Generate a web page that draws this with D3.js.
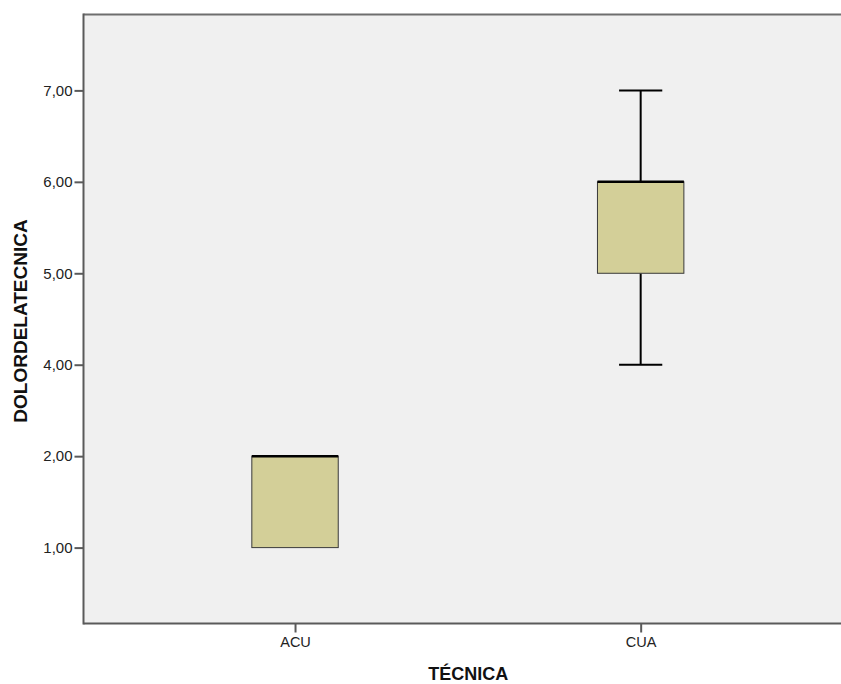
<!DOCTYPE html>
<html>
<head>
<meta charset="utf-8">
<script src="https://cdn.jsdelivr.net/npm/d3@7"></script>
<style>
  html, body { margin: 0; padding: 0; background: #ffffff; }
  svg { display: block; }
</style>
</head>
<body>
<script>
// ---- Data ----
const categories = ["ACU", "CUA"];
const mins    = [1, 4];
const q1s     = [1, 5];
const medians = [2, 6];
const q3s     = [2, 6];
const maxs    = [2, 7];
const tickValues = [1, 2, 4, 5, 6, 7];
const tickLabels = ["1,00", "2,00", "4,00", "5,00", "6,00", "7,00"];
const xTitle = "TÉCNICA";
const yTitle = "DOLORDELATECNICA";

const W = 841, H = 684;
const plot = { left: 83.5, top: 14.5, right: 852.2, bottom: 623.5 };

const svg = d3.select("body").append("svg")
  .attr("width", W).attr("height", H)
  .style("font-family", "'Liberation Sans', Arial, sans-serif");

// scales
const x = d3.scalePoint().domain(categories)
  .range([plot.left, plot.right]).padding(0.612);

// Axis positions are evenly spaced per listed tick (the original axis has no 3,00)
const idx = d3.scaleLinear().domain([-0.83, tickValues.length - 1 + 0.83])
  .range([plot.bottom, plot.top]);
const y = d3.scaleLinear().domain(tickValues)
  .range(tickValues.map((v, i) => idx(i)));

// plot background
svg.append("rect")
  .attr("x", plot.left).attr("y", plot.top)
  .attr("width", plot.right - plot.left + 10).attr("height", plot.bottom - plot.top)
  .attr("fill", "#f0f0f0");

const step = x.step();
const boxW = step * 0.25;
const capW = boxW / 2;

const data = categories.map((c, i) => ({
  c, min: mins[i], q1: q1s[i], med: medians[i], q3: q3s[i], max: maxs[i]
}));

const g = svg.append("g");
data.forEach(d => {
  const cx = x(d.c);
  // whiskers
  if (d.max > d.q3) {
    g.append("line").attr("x1", cx).attr("x2", cx)
      .attr("y1", y(d.q3)).attr("y2", y(d.max))
      .attr("stroke", "#000").attr("stroke-width", 2);
    g.append("line").attr("x1", cx - capW / 2).attr("x2", cx + capW / 2)
      .attr("y1", y(d.max)).attr("y2", y(d.max))
      .attr("stroke", "#000").attr("stroke-width", 2);
  }
  if (d.min < d.q1) {
    g.append("line").attr("x1", cx).attr("x2", cx)
      .attr("y1", y(d.q1)).attr("y2", y(d.min))
      .attr("stroke", "#000").attr("stroke-width", 2);
    g.append("line").attr("x1", cx - capW / 2).attr("x2", cx + capW / 2)
      .attr("y1", y(d.min)).attr("y2", y(d.min))
      .attr("stroke", "#000").attr("stroke-width", 2);
  }
  // box
  g.append("rect")
    .attr("x", cx - boxW / 2).attr("y", y(d.q3))
    .attr("width", boxW).attr("height", y(d.q1) - y(d.q3))
    .attr("fill", "#d3cf98").attr("stroke", "#3a3a3a").attr("stroke-width", 1);
  // median
  g.append("line").attr("x1", cx - boxW / 2).attr("x2", cx + boxW / 2)
    .attr("y1", y(d.med)).attr("y2", y(d.med))
    .attr("stroke", "#000").attr("stroke-width", 2.5);
});

// axes
const axisColor = "#5a5a5a";
const yAxis = svg.append("g").attr("transform", `translate(${plot.left},0)`)
  .call(d3.axisLeft(y).tickValues(tickValues)
    .tickFormat((v, i) => tickLabels[i]).tickSize(9).tickPadding(2));
yAxis.select(".domain").remove();
yAxis.selectAll(".tick line").attr("stroke", axisColor).attr("stroke-width", 2);
yAxis.selectAll(".tick text").attr("fill", "#222").style("font-size", "15px")
  .style("font-family", "'Liberation Sans', Arial, sans-serif");

const xAxis = svg.append("g").attr("transform", `translate(0,${plot.bottom})`)
  .call(d3.axisBottom(x).tickSize(9).tickPadding(4));
xAxis.select(".domain").remove();
xAxis.selectAll(".tick line").attr("stroke", axisColor).attr("stroke-width", 2);
xAxis.selectAll(".tick text").attr("fill", "#222").style("font-size", "14.5px")
  .style("font-family", "'Liberation Sans', Arial, sans-serif");

// frame lines
svg.append("line").attr("x1", plot.left).attr("x2", W + 5)
  .attr("y1", plot.top).attr("y2", plot.top)
  .attr("stroke", "#6e6e6e").attr("stroke-width", 2);
svg.append("line").attr("x1", plot.left).attr("x2", W + 5)
  .attr("y1", plot.bottom).attr("y2", plot.bottom)
  .attr("stroke", axisColor).attr("stroke-width", 2);
svg.append("line").attr("x1", plot.left).attr("x2", plot.left)
  .attr("y1", plot.top - 1).attr("y2", plot.bottom + 1)
  .attr("stroke", axisColor).attr("stroke-width", 2);

// titles
svg.append("text")
  .attr("x", (plot.left + W) / 2 + 6).attr("y", 680)
  .attr("text-anchor", "middle")
  .style("font-size", "18px").style("font-weight", "bold").attr("fill", "#111")
  .text(xTitle);

svg.append("text")
  .attr("transform", `translate(27,${(plot.top + plot.bottom) / 2 + 2}) rotate(-90)`)
  .attr("text-anchor", "middle")
  .style("font-size", "19px").style("font-weight", "bold").attr("fill", "#111")
  .text(yTitle);
</script>
</body>
</html>
